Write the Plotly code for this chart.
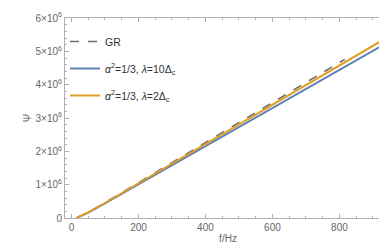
import plotly.graph_objects as go

# data
f_gr = [15, 50, 100, 200, 300, 400, 500, 600, 700, 816]
psi_gr = [0, 0.17e6, 0.46e6, 1.06e6, 1.66e6, 2.26e6, 2.86e6, 3.46e6, 4.06e6, 4.76e6]

f_l10 = [15, 50, 100, 200, 300, 400, 500, 600, 700, 800, 900, 945]
psi_l10 = [0, 0.16e6, 0.44e6, 1.01e6, 1.58e6, 2.15e6, 2.72e6, 3.29e6, 3.86e6, 4.43e6, 5.0e6, 5.27e6]

f_l2 = [15, 50, 100, 200, 300, 400, 500, 600, 700, 800, 900, 933]
psi_l2 = [0, 0.17e6, 0.45e6, 1.04e6, 1.63e6, 2.22e6, 2.81e6, 3.40e6, 3.99e6, 4.58e6, 5.17e6, 5.36e6]

x_ticks = [0, 200, 400, 600, 800]
y_ticks = [0, 1e6, 2e6, 3e6, 4e6, 5e6, 6e6]
y_labels = ["0"] + [f"{i}×10<sup>6</sup>" for i in range(1, 7)]

fig = go.Figure()
fig.add_trace(go.Scatter(x=f_gr, y=psi_gr, mode="lines", name="GR",
                         line=dict(color="#6f6f6f", width=1.6, dash="dash"),
                         legendgroup="a"))
fig.add_trace(go.Scatter(x=f_l10, y=psi_l10, mode="lines",
                         name="<i>α</i><sup>2</sup>=1/3, <i>λ</i>=10Δ<sub>c</sub>",
                         line=dict(color="#5E81B5", width=2), legendgroup="b"))
fig.add_trace(go.Scatter(x=f_l2, y=psi_l2, mode="lines",
                         name="<i>α</i><sup>2</sup>=1/3, <i>λ</i>=2Δ<sub>c</sub>",
                         line=dict(color="#E19C24", width=2), legendgroup="c"))

axis_common = dict(showgrid=False, zeroline=False, showline=True, linecolor="#b0b0b0",
                   linewidth=1, mirror="allticks", ticks="inside", ticklen=4,
                   tickcolor="#b0b0b0", tickfont=dict(family="Liberation Sans", size=10, color="#666666"))

fig.update_xaxes(range=[-19.4, 954], tickvals=x_ticks,
                 minor=dict(dtick=50, tick0=0, ticklen=2, ticks="inside", tickcolor="#b0b0b0"),
                 title=dict(text="f/Hz", font=dict(family="Liberation Sans", size=10, color="#666666"), standoff=2),
                 **axis_common)
fig.update_yaxes(range=[0, 6e6], tickvals=y_ticks, ticktext=y_labels,
                 minor=dict(dtick=2e5, tick0=0, ticklen=2, ticks="inside", tickcolor="#b0b0b0"),
                 title=dict(text="Ψ", font=dict(family="Liberation Sans", size=10, color="#666666"), standoff=2),
                 **axis_common)

fig.update_layout(
    width=387, height=249,
    margin=dict(l=57, r=3, t=7, b=39),
    plot_bgcolor="white", paper_bgcolor="white",
    legend=dict(x=0.0, y=0.955, xanchor="left", yanchor="top",
                bgcolor="rgba(0,0,0,0)", tracegroupgap=8, itemwidth=30,
                font=dict(family="Liberation Sans", size=10.5, color="#333333")),
)

fig.write_html("out.html")
